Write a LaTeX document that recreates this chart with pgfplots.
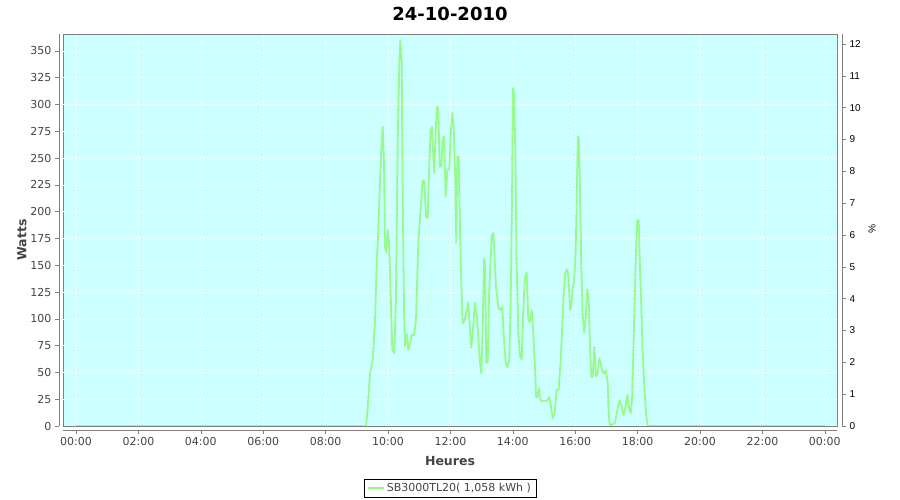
\documentclass[border=0pt]{standalone}
\usepackage{pgfplots}
\pgfplotsset{compat=1.18}
\usepackage{fontspec}
\setmainfont{DejaVu Sans}
\newfontfamily\arialfont{Liberation Sans}
\definecolor{bgcyan}{RGB}{204,255,255}
\definecolor{linegreen}{RGB}{150,250,140}
\definecolor{framegray}{RGB}{128,128,128}
\definecolor{labelgray}{RGB}{68,68,68}

\begin{document}
\begin{tikzpicture}[x=1pt,y=1pt]
\useasboundingbox (0,0) rectangle (900,500);
\begin{axis}[
  at={(63pt,74pt)}, anchor=south west,
  scale only axis, width=774pt, height=392pt,
  xmin=-0.417, xmax=24.391, ymin=0, ymax=365.7,
  axis background/.style={fill=bgcyan, draw=framegray},
  axis x line*=bottom, axis y line*=left,
  axis x line shift=4pt, axis y line shift=4pt,
  axis line style={framegray, -},
  tick align=outside, major tick length=4pt,
  tick style={framegray, line width=0.5pt},
  xtick={0,2,...,24},
  xticklabels={00:00,02:00,04:00,06:00,08:00,10:00,12:00,14:00,16:00,18:00,20:00,22:00,00:00},
  ytick={0,25,...,350},
  xmajorgrids=true, ymajorgrids=false,
  extra y ticks={25,50,...,350},
  extra y tick labels={},
  extra y tick style={ymajorgrids=true, major tick length=0pt},
  major grid style={white, dash pattern=on 2pt off 2pt, line width=0.6pt},
  ticklabel style={font=\fontsize{11}{13}\selectfont, text=labelgray},
  /pgf/number format/assume math mode=true,
  xlabel={Heures},
  xlabel style={at={(axis description cs:0.5,-0.0893)}, anchor=center,
    font=\bfseries\fontsize{12.5}{14}\selectfont, text=labelgray},
  ylabel={Watts},
  ylabel style={at={(axis description cs:-0.053,0.4745)}, anchor=center, rotate=0,
    font=\bfseries\fontsize{12.5}{14}\selectfont, text=labelgray},
  title={24-10-2010},
  title style={at={(axis description cs:0.5,1.036)}, anchor=center,
    font=\bfseries\fontsize{18}{20}\selectfont},
  legend style={at={(axis description cs:0.5,-0.158)}, anchor=center,
    draw=black, line width=0.6pt, font=\fontsize{11}{13}\selectfont,
    text=labelgray, inner xsep=3pt, inner ysep=2pt},
  legend image code/.code={\draw[#1, line width=1.8pt] (0pt,0pt) -- (16pt,0pt);},
]
\addplot[linegreen, line width=1.8pt, line join=round] coordinates {
(0,0)(9.295,0)(9.337,12)(9.423,49)(9.510,62)(9.583,97)(9.638,152)(9.689,183)
(9.744,229)(9.798,267)(9.830,279)(9.872,245)(9.904,167)(9.946,162)(9.990,183)
(10.032,171)(10.087,121)(10.138,71)(10.202,68)(10.256,121)(10.311,264)(10.362,339)
(10.394,360)(10.439,339)(10.471,214)(10.513,111)(10.545,74)(10.599,86)(10.651,71)
(10.705,77)(10.760,85)(10.833,85)(10.897,99)(10.971,171)(11.058,208)(11.112,229)
(11.163,229)(11.218,195)(11.272,194)(11.324,245)(11.369,276)(11.410,279)(11.452,251)
(11.484,236)(11.529,276)(11.571,298)(11.612,295)(11.657,242)(11.708,242)(11.753,267)
(11.795,270)(11.849,214)(11.901,239)(11.965,240)(12.019,276)(12.061,292)(12.106,279)
(12.157,229)(12.189,171)(12.221,251)(12.266,251)(12.308,183)(12.349,133)(12.394,96)
(12.436,97)(12.500,105)(12.574,115)(12.628,90)(12.670,73)(12.724,90)(12.788,115)
(12.843,102)(12.894,83)(12.949,59)(12.990,49)(13.035,90)(13.077,156)(13.109,152)
(13.151,59)(13.196,60)(13.237,121)(13.279,150)(13.324,177)(13.375,180)(13.462,130)
(13.535,111)(13.612,108)(13.663,111)(13.718,80)(13.772,59)(13.824,55)(13.888,62)
(13.933,118)(13.974,211)(14.006,315)(14.048,308)(14.087,242)(14.125,149)(14.176,87)
(14.231,65)(14.285,62)(14.337,108)(14.391,139)(14.446,143)(14.497,99)(14.551,97)
(14.606,108)(14.657,87)(14.712,55)(14.744,27)(14.785,27)(14.830,35)(14.894,24)
(14.958,23)(15.032,23)(15.106,24)(15.170,27)(15.224,18)(15.279,7)(15.343,12)
(15.407,34)(15.471,34)(15.535,62)(15.577,87)(15.631,124)(15.683,143)(15.747,146)
(15.792,136)(15.833,108)(15.875,111)(15.920,130)(15.971,136)(16.016,164)(16.058,227)
(16.090,270)(16.122,267)(16.154,217)(16.196,149)(16.240,102)(16.292,87)(16.337,102)
(16.388,127)(16.433,118)(16.474,74)(16.516,46)(16.561,46)(16.612,74)(16.667,46)
(16.721,49)(16.772,63)(16.817,59)(16.859,52)(16.923,49)(16.987,52)(17.042,40)
(17.074,10)(17.115,0)(17.276,3)(17.349,15)(17.420,24)(17.484,19)(17.548,10)
(17.612,18)(17.670,29)(17.724,17)(17.779,12)(17.821,24)(17.862,68)(17.907,121)
(17.949,161)(17.990,192)(18.035,192)(18.077,146)(18.119,111)(18.163,68)(18.215,37)
(18.269,12)(18.324,0)(24,0)
};
\addlegendentry{SB3000TL20( 1,058 kWh )}
\end{axis}
\begin{axis}[
  at={(63pt,74pt)}, anchor=south west,
  scale only axis, width=774pt, height=392pt,
  xmin=-0.417, xmax=24.391, ymin=0, ymax=12.315,
  axis x line=none, axis y line*=right, axis y line shift=5pt,
  axis line style={framegray, -},
  tick align=outside, major tick length=4pt,
  tick style={framegray, line width=0.5pt},
  ytick={0,1,...,12},
  ticklabel style={font=\arialfont\fontsize{10}{12}\selectfont, text=black},
  /pgf/number format/assume math mode=true,
  ylabel={\%},
  ylabel style={at={(axis description cs:1.0452,0.5026)}, anchor=center, rotate=180,
    font=\arialfont\fontsize{10}{12}\selectfont},
]
\addplot[draw=none, forget plot] coordinates {(0,0)};
\end{axis}
\end{tikzpicture}
\end{document}
